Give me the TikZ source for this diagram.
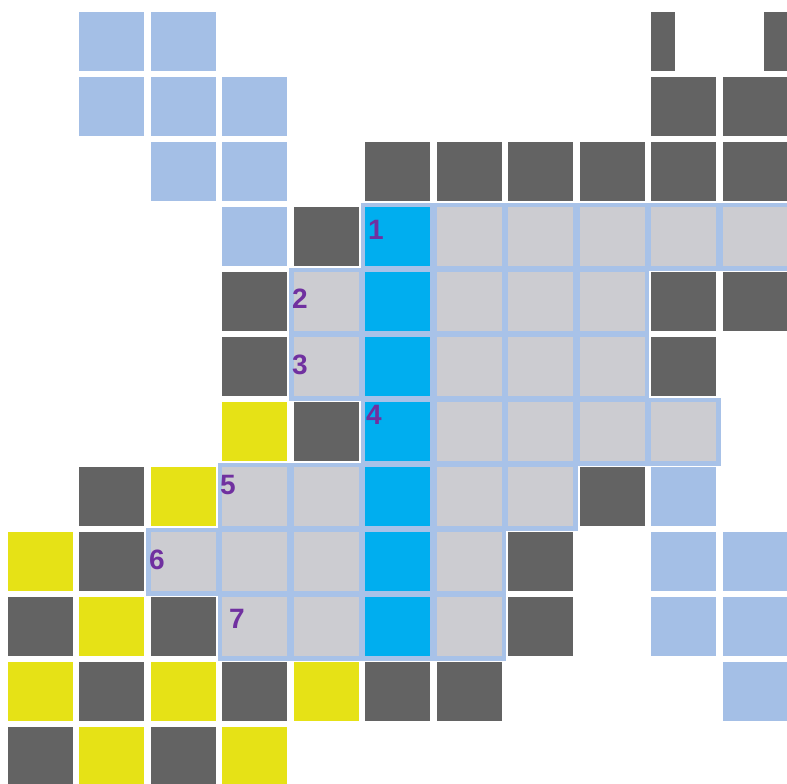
\documentclass[tikz,border=0pt]{standalone}
\usepackage{fontspec}
\setmainfont{Liberation Sans}
\definecolor{lblue}{HTML}{A4BFE6}
\definecolor{dgrey}{HTML}{636363}
\definecolor{cyanb}{HTML}{00AEEF}
\definecolor{lgrey}{HTML}{CCCCD1}
\definecolor{yel}{HTML}{E6E216}
\definecolor{framec}{HTML}{A8C2E8}
\definecolor{numc}{HTML}{7030A0}
\begin{document}
\begin{tikzpicture}[x=1pt,y=-1pt,
  cellbox/.style={draw=none,inner sep=0pt,outer sep=0pt,minimum width=65pt,minimum height=59pt,anchor=north west},
  framebox/.style={cellbox,minimum width=74pt,minimum height=68pt,fill=framec},
  numlabel/.style={inner sep=0pt,anchor=base west,text=numc,font=\fontsize{28}{28}\selectfont\bfseries}]
\useasboundingbox (0,0) rectangle (787,784);
% frames behind the grey/blue region
\foreach \c/\r in {5/3,5/4,5/5,5/6,5/7,5/8,5/9,
  6/3,7/3,8/3,9/3,10/3, 4/4,6/4,7/4,8/4, 4/5,6/5,7/5,8/5,
  6/6,7/6,8/6,9/6, 3/7,4/7,6/7,7/7, 2/8,3/8,4/8,6/8, 3/9,4/9,6/9}
  \node[framebox] (f-\c-\r) at ({7.5+71.5*\c-4.5},{12+65*\r-4.5}) {};
% light blue cells
\foreach \c/\r in {1/0,2/0,1/1,2/1,3/1,2/2,3/2,3/3,9/7,9/8,10/8,9/9,10/9,10/10}
  \node[cellbox,fill=lblue] (c-\c-\r) at ({7.5+71.5*\c},{12+65*\r}) {};
% dark cells
\foreach \c/\r in {9/1,10/1,5/2,6/2,7/2,8/2,9/2,10/2,4/3,3/4,9/4,10/4,3/5,9/5,4/6,
  1/7,8/7,1/8,7/8,0/9,2/9,7/9,1/10,3/10,5/10,6/10,0/11,2/11}
  \node[cellbox,fill=dgrey] (c-\c-\r) at ({7.5+71.5*\c},{12+65*\r}) {};
% partial dark cells in the top row
\node[cellbox,fill=dgrey,minimum width=24pt] (p-9-0) at (650.5,12) {};
\node[cellbox,fill=dgrey,minimum width=24pt] (p-10-0) at (763.5,12) {};
% yellow cells
\foreach \c/\r in {3/6,2/7,0/8,1/9,0/10,2/10,4/10,1/11,3/11}
  \node[cellbox,fill=yel] (c-\c-\r) at ({7.5+71.5*\c},{12+65*\r}) {};
% blue column
\foreach \r in {3,...,9}
  \node[cellbox,fill=cyanb] (c-5-\r) at ({7.5+71.5*5},{12+65*\r}) {};
% grey cells
\foreach \c/\r in {6/3,7/3,8/3,9/3,10/3, 4/4,6/4,7/4,8/4, 4/5,6/5,7/5,8/5,
  6/6,7/6,8/6,9/6, 3/7,4/7,6/7,7/7, 2/8,3/8,4/8,6/8, 3/9,4/9,6/9}
  \node[cellbox,fill=lgrey] (c-\c-\r) at ({7.5+71.5*\c},{12+65*\r}) {};
% numbers
\node[numlabel] (n1) at (368,239) {1};
\node[numlabel] (n2) at (292,308) {2};
\node[numlabel] (n3) at (292,374) {3};
\node[numlabel] (n4) at (366,424) {4};
\node[numlabel] (n5) at (220,494) {5};
\node[numlabel] (n6) at (149,569) {6};
\node[numlabel] (n7) at (229,628) {7};
\end{tikzpicture}
\end{document}
